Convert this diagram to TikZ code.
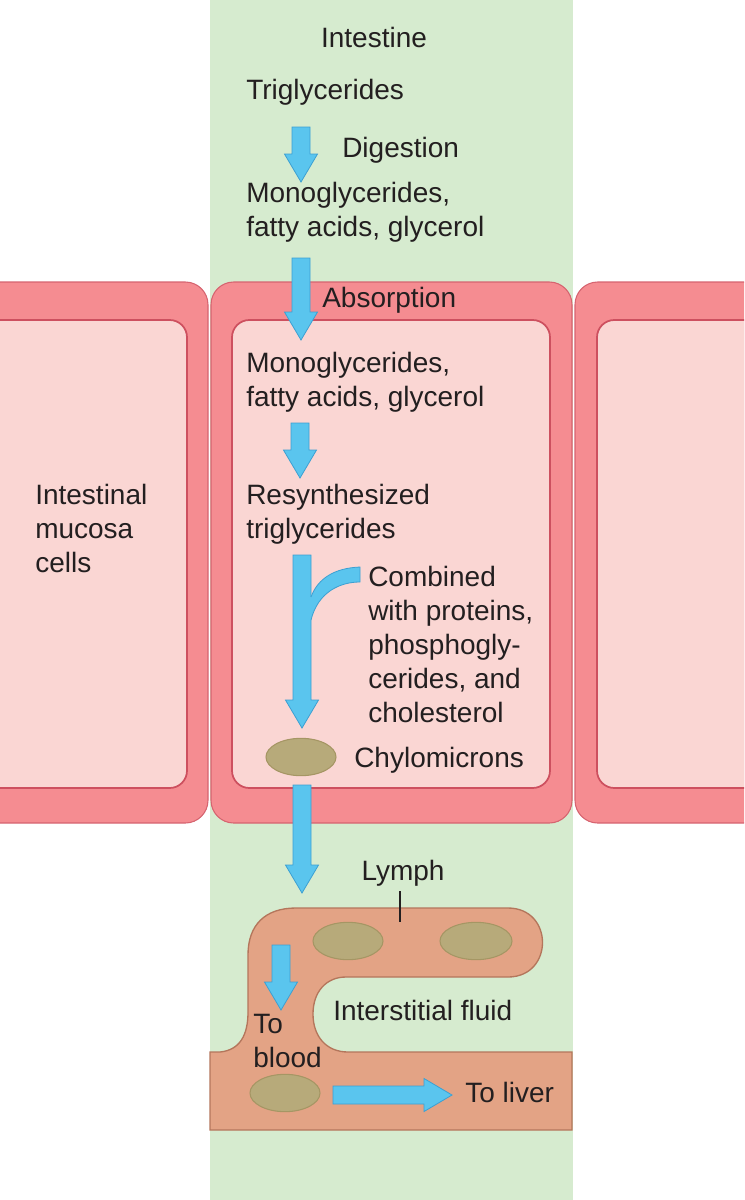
\documentclass[tikz,border=0pt]{standalone}
\usepackage{fontspec}
\setmainfont{Liberation Sans}
\usepackage{tikz}
\usetikzlibrary{calc, shapes.geometric}

\definecolor{gutgreen}{RGB}{214,235,207}
\definecolor{wallpink}{RGB}{245,140,145}
\definecolor{walledge}{RGB}{214,100,112}
\definecolor{cellpink}{RGB}{250,214,211}
\definecolor{celledge}{RGB}{205,80,95}
\definecolor{lymphtan}{RGB}{227,163,133}
\definecolor{lymphedge}{RGB}{180,118,92}
\definecolor{chylo}{RGB}{183,170,122}
\definecolor{chyloedge}{RGB}{165,150,100}
\definecolor{flowblue}{RGB}{90,197,238}
\definecolor{flowedge}{RGB}{60,160,210}
\definecolor{inktext}{RGB}{35,31,32}

\tikzset{
  wall/.style={fill=wallpink, draw=walledge, line width=0.8pt, rounded corners=17pt},
  cell/.style={fill=cellpink, draw=celledge, line width=1.3pt, rounded corners=13pt},
  lymph/.style={fill=lymphtan, draw=lymphedge, line width=1pt},
  chylomicron/.style={ellipse, fill=chylo, draw=chyloedge, line width=0.8pt, inner sep=0pt, minimum width=52.5pt, minimum height=28pt},
  flow/.style={fill=flowblue, draw=flowedge, line width=0.6pt},
  label/.style={inner sep=0pt, text=inktext, font=\fontsize{21}{25.5}\selectfont, align=left},
}

% block arrow from #1 to the tip #2
\newcommand{\flowarrow}[2]{%
  \coordinate (fa-base) at ($(#2)!21pt!(#1)$);
  \filldraw[flow] ($(#1)!6.75pt!90:(#2)$) -- ($(fa-base)!6.75pt!90:(#2)$) -- ($(fa-base)!12.4pt!90:(#2)$) -- (#2)
    -- ($(fa-base)!12.4pt!-90:(#2)$) -- ($(fa-base)!6.75pt!-90:(#2)$) -- ($(#1)!6.75pt!-90:(#2)$) -- cycle;}

\begin{document}
\begin{tikzpicture}[x=0.75pt,y=0.75pt,yscale=-1,xscale=1]
\useasboundingbox (0,0) rectangle (744,1200);
\clip (0,0) rectangle (744,1200);

%Shape: Intestine lumen
\fill[gutgreen] (210,0) rectangle (573,1200);

%Shape: Mucosa cells
\draw[wall] (-40,282) rectangle (208,823);
\draw[wall] (211,282) rectangle (572,823);
\draw[wall] (575,282) rectangle (790,823);
\draw[cell] (-40,320) rectangle (187,788);
\draw[cell] (232,320) rectangle (550,788);
\draw[cell] (597,320) rectangle (790,788);

%Shape: Lymph vessel
\draw[lymph] (210,1130) -- (210,1052) -- (220,1052) .. controls (240,1050) and (248,1035) .. (248,1012) -- (248,955) .. controls (248,925) and (265,908) .. (296,908) -- (508,908) .. controls (554,908) and (554,977) .. (508,977) -- (346,977) .. controls (326,977) and (313,992) .. (313,1014) .. controls (313,1036) and (326,1052) .. (348,1052) -- (572,1052) -- (572,1130) -- cycle;

%Shape: Chylomicrons
\node[chylomicron] (chylo0) at (301,757) {};
\node[chylomicron] (chylo1) at (348,941) {};
\node[chylomicron, minimum width=54pt] (chylo2) at (476,941) {};
\node[chylomicron] (chylo3) at (285,1093) {};

% Text Node
\node[label, anchor=base] (intestine) at (374,47) {Intestine};
% Text Node
\node[label, anchor=base west] (trig) at (246,99) {Triglycerides};
% Text Node
\node[label, anchor=base west] (digestion) at (342,157) {Digestion};
% Text Node
\node[label, anchor=base west] (mono1) at (246,236) {Monoglycerides,\\fatty acids, glycerol};
% Text Node
\node[label, anchor=base west] (absorption) at (322,307) {Absorption};
% Text Node
\node[label, anchor=base west] (mono2) at (246,406) {Monoglycerides,\\fatty acids, glycerol};
% Text Node
\node[label, anchor=base west] (resyn) at (246,538) {Resynthesized\\triglycerides};
% Text Node
\node[label, anchor=base west] (combined) at (368,722) {Combined\\with proteins,\\phosphogly-\\cerides, and\\cholesterol};
% Text Node
\node[label, anchor=base west] (chylolbl) at (354,767) {Chylomicrons};
% Text Node
\node[label, anchor=base west] (mucosa) at (35,572) {Intestinal\\mucosa\\cells};
% Text Node
\node[label, anchor=base] (lymphlbl) at (403,880) {Lymph};
% Text Node
\node[label, anchor=base west] (interstitial) at (333,1020) {Interstitial fluid};
% Text Node
\node[label, anchor=base west] (toblood) at (253,1067) {To\\blood};
% Text Node
\node[label, anchor=base west] (toliver) at (465,1102) {To liver};

%Straight Lines: Lymph pointer
\coordinate (lymphwall) at (400,922);
\draw[inktext, line width=1pt] ([yshift=4pt]lymphlbl.south -| lymphwall) -- (lymphwall);

%Block arrows
\coordinate (a1s) at (301,127);  \coordinate (a1e) at (301,182);
\coordinate (a2s) at (301,258);  \coordinate (a2e) at (301,340);
\coordinate (a3s) at (300,423);  \coordinate (a3e) at (300,478);
\coordinate (a4s) at (302,555);  \coordinate (a4e) at (302,728);
\coordinate (a5s) at (302,785);  \coordinate (a5e) at (302,893);
\coordinate (a6s) at (281,945);  \coordinate (a6e) at (281,1010);
\coordinate (a7s) at (333,1095); \coordinate (a7e) at (452,1095);
\flowarrow{a1s}{a1e}
\flowarrow{a2s}{a2e}
\flowarrow{a3s}{a3e}
\flowarrow{a4s}{a4e}
\flowarrow{a5s}{a5e}
\flowarrow{a6s}{a6e}
\flowarrow{a7s}{a7e}

%Curve Lines: branch joining the long arrow
\fill[flowblue] (305,597) -- (311,597) .. controls (318,578) and (335,568) .. (360,567) -- (360,582) .. controls (340,582) and (318,592) .. (311,620) -- (305,620) -- cycle;
\draw[flowedge, line width=0.6pt] (311,597) .. controls (318,578) and (335,568) .. (360,567) -- (360,582) .. controls (340,582) and (318,592) .. (311,620);

\end{tikzpicture}
\end{document}
